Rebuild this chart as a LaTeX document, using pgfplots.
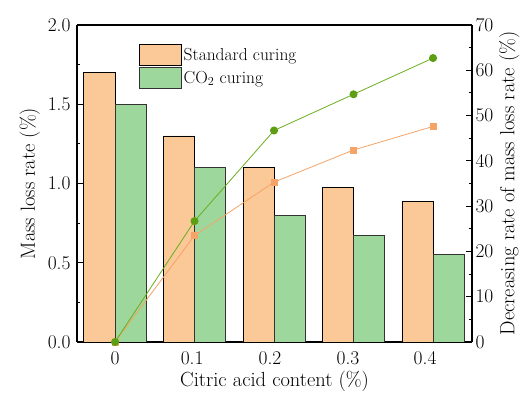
\documentclass[border=0pt]{standalone}
\usepackage{fontspec}
\usepackage{pgfplots}
\pgfplotsset{compat=1.18}
\definecolor{barorange}{HTML}{FBC897}
\definecolor{bargreen}{HTML}{9DD79C}
\definecolor{lineorange}{HTML}{F5A467}
\definecolor{linegreen}{HTML}{6AAE1E}
\definecolor{markgreen}{HTML}{5E9E12}
\begin{document}
\begin{tikzpicture}
\pgfplotsset{
  every axis/.append style={
    scale only axis, width=395bp, height=317bp,
    xmin=-0.478, xmax=4.49,
    axis line style={line width=1.1bp},
    tick style={line width=0.9bp, black},
    major tick length=6bp, minor tick length=3.5bp,
    tick label style={font=\fontsize{19.5}{21}\selectfont},
    every axis label/.append style={font=\fontsize{20.5}{23}\selectfont},
    /pgf/number format/assume math mode=true,
  }
}
\begin{axis}[
  name=ax,
  ybar,
  ymin=0, ymax=2.0,
  ytick={0,0.5,1.0,1.5,2.0},
  yticklabel style={xshift=-3bp, /pgf/number format/fixed, /pgf/number format/fixed zerofill, /pgf/number format/precision=1},
  minor y tick num=1,
  xtick={0,0.97,1.95,2.93,3.9},
  xticklabels={0,0.1,0.2,0.3,0.4},
  x tick style={draw=none},
  axis y line*=left,
  axis x line*=bottom,
  xlabel={Citric acid content (\%)},
  ylabel={Mass loss rate (\%)},
  xlabel style={yshift=0bp},
  ylabel style={yshift=1bp},
  legend style={at={(0.149,0.946)}, anchor=north west, draw=none, fill=none,
    font=\fontsize{17.5}{19}\selectfont, row sep=1bp,
    /tikz/every even column/.append style={column sep=2bp}},
  legend cell align=left,
  legend image code/.code={\draw[#1] (0bp,-10.5bp) rectangle (42bp,10.5bp);},
]
\addplot[fill=barorange, draw=black, line width=0.7bp, bar width=0.392, bar shift=-0.196]
  coordinates {(0,1.70) (1,1.30) (2,1.10) (3,0.975) (4,0.887)};
\addlegendentry{Standard curing}
\addplot[fill=bargreen, draw=black!80, line width=0.7bp, bar width=0.392, bar shift=0.196]
  coordinates {(0,1.50) (1,1.10) (2,0.797) (3,0.675) (4,0.555)};
\addlegendentry{CO\textsubscript{2} curing}
\draw[line width=1.1bp] (rel axis cs:0,1) -- (rel axis cs:1,1);
\end{axis}
\begin{axis}[
  ymin=0, ymax=70,
  ytick={0,10,...,70},
  minor y tick num=1,
  axis y line*=right,
  axis x line=none,
  ylabel={Decreasing rate of mass loss rate (\%)},
  ylabel style={yshift=1bp},
]
\addplot[color=lineorange, line width=0.8bp, mark=square*, mark size=3bp, mark options={fill=lineorange, draw=lineorange}]
  coordinates {(0,0) (1,23.5) (2,35.3) (3,42.4) (4,47.6)};
\addplot[color=linegreen, line width=0.8bp, mark=*, mark size=3.6bp, mark options={fill=markgreen, draw=markgreen}]
  coordinates {(0,0) (1,26.7) (2,46.7) (3,54.7) (4,62.7)};
\end{axis}
\pgfresetboundingbox
\path (ax.south west) ++(-77bp,-52bp) coordinate (bl);
\path (ax.north east) ++(60bp,25bp) coordinate (tr);
\path[use as bounding box] (bl) rectangle (tr);
\end{tikzpicture}
\end{document}
